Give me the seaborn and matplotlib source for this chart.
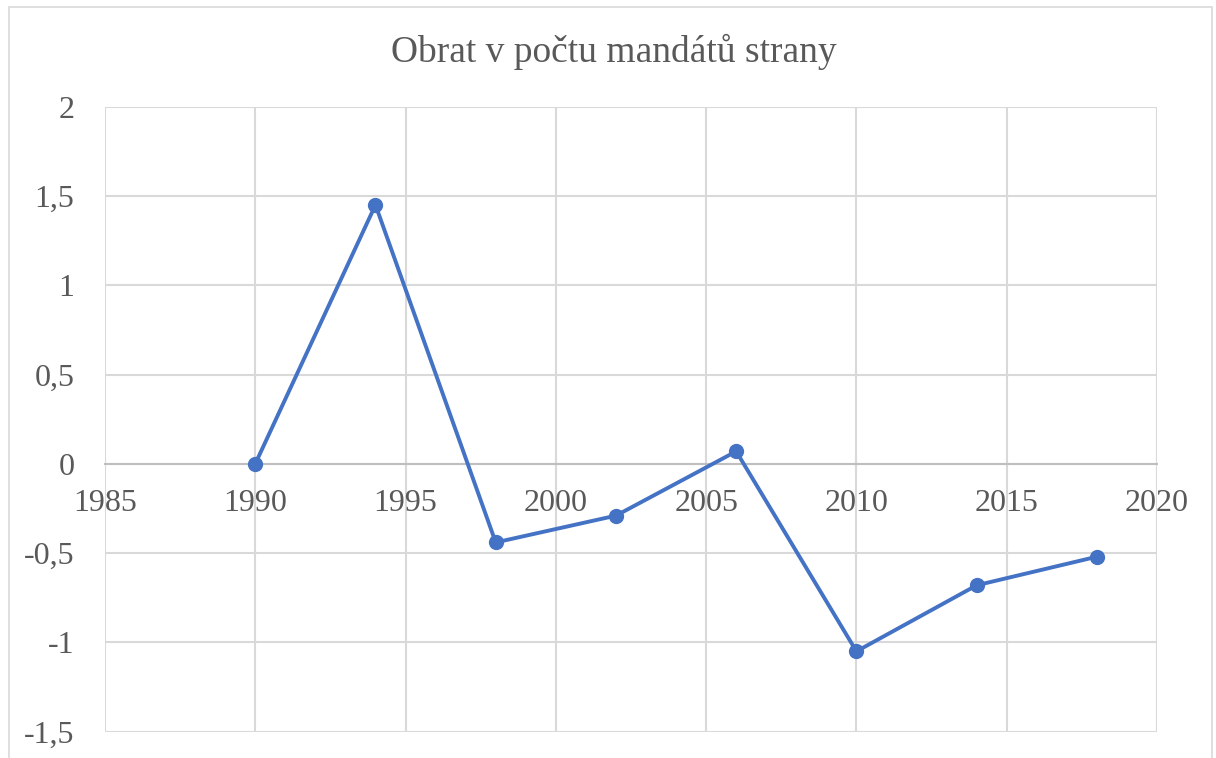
import numpy as np
import pandas as pd
import matplotlib
matplotlib.use("Agg")
import matplotlib.pyplot as plt
import seaborn as sns
from matplotlib.patches import Rectangle

# ── data ─────────────────────────────────────
years = [1990, 1994, 1998, 2002, 2006, 2010, 2014, 2018]
turnover = [0.0, 1.45, -0.44, -0.29, 0.07, -1.05, -0.68, -0.52]
x_ticks = [1985, 1990, 1995, 2000, 2005, 2010, 2015, 2020]
y_ticks = [-1.5, -1.0, -0.5, 0.0, 0.5, 1.0, 1.5, 2.0]
y_labels = ["-1,5", "-1", "-0,5", "0", "0,5", "1", "1,5", "2"]
title = "Obrat v počtu mandátů strany"

df = pd.DataFrame({"rok": years, "obrat": turnover})

sns.set_theme(style="white")
plt.rcParams["font.family"] = ["Liberation Serif", "DejaVu Serif"]

text_col = "#595959"
grid_col = "#d9d9d9"
line_col = "#4472C4"

fig = plt.figure(figsize=(12.16, 7.58), dpi=100)
ax = fig.add_axes([0.0863, 0.0347, 0.8652, 0.8245])

sns.lineplot(
    data=df, x="rok", y="obrat", ax=ax,
    color=line_col, linewidth=2.8,
    marker="o", markersize=11, markeredgewidth=0,
    clip_on=False, zorder=5
)

ax.set_xlim(1985, 2020)
ax.set_ylim(-1.5, 2)
ax.set_xticks(x_ticks)
ax.set_xticklabels([str(x) for x in x_ticks])
ax.set_yticks(y_ticks)
ax.set_yticklabels(y_labels)

ax.grid(True, color=grid_col, linewidth=1.5)
ax.set_axisbelow(True)

for side in ["top", "right", "left"]:
    ax.spines[side].set_visible(False)
ax.spines["bottom"].set_position(("data", 0))
ax.spines["bottom"].set_color("#bfbfbf")
ax.spines["bottom"].set_linewidth(1.5)

ax.tick_params(axis="x", length=0, pad=18, labelsize=23, labelcolor=text_col)
ax.tick_params(axis="y", length=0, pad=22, labelsize=23, labelcolor=text_col)

ax.set_xlabel("")
ax.set_ylabel("")

fig.text(0.505, 0.932, title, ha="center", va="center",
         fontsize=27, color=text_col)

# chart border
fig.patches.append(Rectangle((9 / 1216, -0.05), 1203 / 1216, 1.05 - 7 / 758,
                             transform=fig.transFigure, fill=False,
                             edgecolor="#d9d9d9", linewidth=1.2))

fig.savefig("out.png", dpi=100, facecolor="white")
